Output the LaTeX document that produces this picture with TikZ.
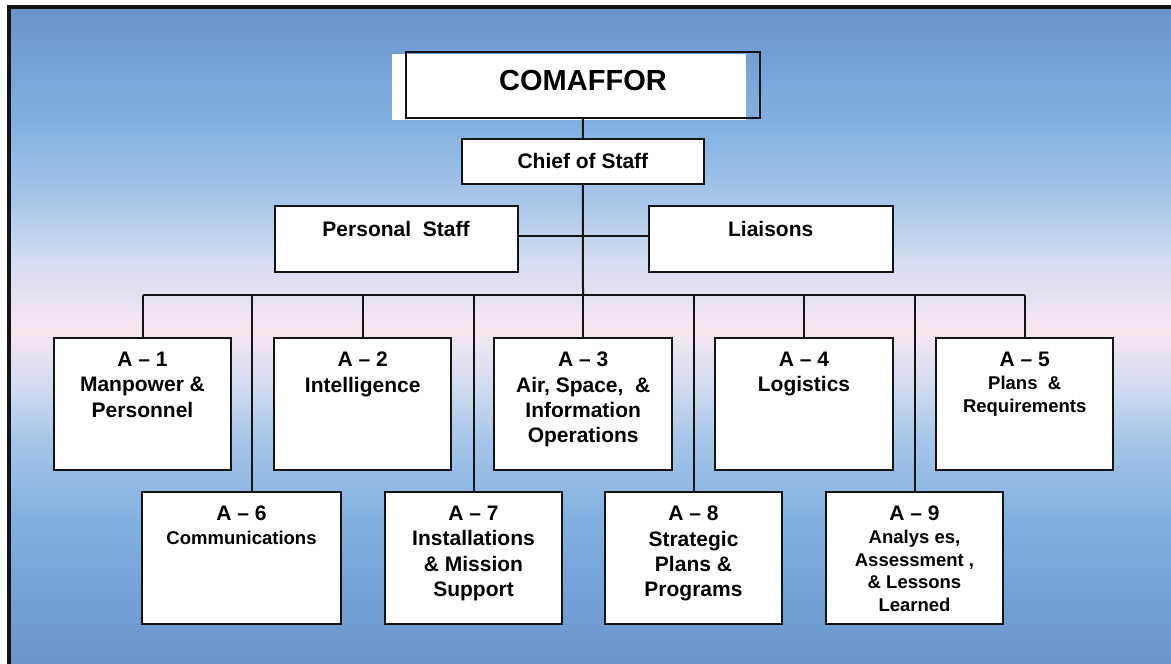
\documentclass[tikz,border=0pt]{standalone}
\usepackage{fontspec}
\setmainfont{Liberation Sans}
\usetikzlibrary{positioning}

\definecolor{ink}{HTML}{141414}
\definecolor{skyedge}{HTML}{6994CB}
\definecolor{skyhi}{HTML}{80B0E0}
\definecolor{skymid}{HTML}{A6C6E9}
\definecolor{skylav}{HTML}{D2DCF0}
\definecolor{skypink}{HTML}{F8E6F1}

\pgfdeclareverticalshading{skyband}{100bp}{color(0bp)=(skyedge); color(25bp)=(skyedge);
  color(36.2bp)=(skyhi); color(42.3bp)=(skymid); color(46.5bp)=(skylav); color(50.6bp)=(skypink);
  color(55.9bp)=(skylav); color(60.4bp)=(skymid); color(66.5bp)=(skyhi); color(75bp)=(skyedge); color(100bp)=(skyedge)}

\begin{document}
\begin{tikzpicture}[x=1pt, y=-1pt,
    unit/.style={draw=ink, line width=2pt, fill=white, inner sep=0pt, minimum width=177.5pt, minimum height=131.7pt},
    unittext/.style={anchor=north, inner sep=0pt, align=center, font=\bfseries\fontsize{21}{25.4}\selectfont},
    unitsmall/.style={unittext, font=\bfseries\fontsize{18.5}{22.5}\selectfont},
    staffbox/.style={draw=ink, line width=2pt, fill=white, inner sep=0pt, minimum width=243pt, minimum height=66pt},
    link/.style={draw=ink, line width=2pt}]
    \useasboundingbox (0,0) rectangle (1171,664);
    \clip (0,0) rectangle (1171,664);

    % Background panel
    \fill [white] (0,0) rectangle (1171,664);
    \shadedraw [shading=skyband, draw=ink, line width=4pt] (9.4,7.2) rectangle (1175,668);

    % Commander
    \node [inner sep=0pt, minimum width=354pt, minimum height=66pt] (comaffor) at (583,85) {};
    \fill [white] ([xshift=-14pt,yshift=-2pt]comaffor.north west) rectangle ([xshift=-14pt,yshift=-2pt]comaffor.south east);
    \draw [link] (comaffor.north west) rectangle (comaffor.south east);
    \node [anchor=base, font=\bfseries\fontsize{29}{34}\selectfont] at ([yshift=-5pt]comaffor.center) {COMAFFOR};

    % Chief of Staff
    \node [staffbox, minimum width=242.3pt, minimum height=44.4pt] (chief) at (582.9,161.5) {};
    \node [anchor=base, font=\bfseries\fontsize{21}{25}\selectfont] at ([yshift=-6.8pt]chief.center) {Chief of Staff};

    % Personal Staff and Liaisons
    \node [staffbox] (pstaff) at (396,238.7) {};
    \node [anchor=base, font=\bfseries\fontsize{21}{25}\selectfont] at ([yshift=2pt]pstaff.center) {Personal~ Staff};
    \node [staffbox, minimum width=243.8pt] (liaisons) at (770.7,238.7) {};
    \node [anchor=base, font=\bfseries\fontsize{21}{25}\selectfont] at ([yshift=2pt]liaisons.center) {Liaisons};

    % Directorates, top row
    \node [unit] (a1) at (142.5,404.2) {};
    \node [unittext] at ([yshift=-14.4pt]a1.north) {A – 1\\Manpower \&\\Personnel};
    \node [unit] (a2) at (362.7,404.2) {};
    \node [unittext] at ([yshift=-14.4pt]a2.north) {A – 2\\Intelligence};
    \node [unit] (a3) at (583.2,404.2) {};
    \node [unittext] at ([yshift=-14.4pt]a3.north) {A – 3\\Air, Space,~ \&\\Information\\Operations};
    \node [unit] (a4) at (804,404.2) {};
    \node [unittext] at ([yshift=-14.4pt]a4.north) {A – 4\\Logistics};
    \node [unit] (a5) at (1024.7,404.2) {};
    \node [unitsmall] at ([yshift=-14.4pt]a5.north) {{\fontsize{21}{22.5}\selectfont A – 5}\\[1pt]Plans~ \&\\Requirements};

    % Directorates, bottom row
    \node [unit, minimum width=199pt] (a6) at (241.5,558.2) {};
    \node [unitsmall] at ([yshift=-14.4pt]a6.north) {{\fontsize{21}{22.5}\selectfont A – 6}\\[1.8pt]Communications};
    \node [unit] (a7) at (473.5,558.2) {};
    \node [unittext] at ([yshift=-14.4pt]a7.north) {A – 7\\Installations\\\& Mission\\Support};
    \node [unit] (a8) at (693.5,558.2) {};
    \node [unittext] at ([yshift=-14.4pt]a8.north) {A – 8\\Strategic\\Plans \&\\Programs};
    \node [unit] (a9) at (914.5,558.2) {};
    \node [unitsmall] at ([yshift=-14.4pt]a9.north) {{\fontsize{21}{22.5}\selectfont A – 9}\\[0.8pt]Analys es,\\Assessment ,\\\& Lessons\\Learned};

    % Connectors
    \coordinate (bus) at (583,294.5);
    \coordinate (d6) at ([xshift=10.5pt]a6.north);
    \draw [link] (comaffor) -- (chief);
    \draw [link] (chief) -- (bus);
    \draw [link] ([yshift=3pt]pstaff.east) -- ([yshift=3pt]liaisons.west);
    \draw [link] (a1.north |- bus) -- (a5.north |- bus);
    \foreach \b in {a1,a2,a3,a4,a5,a7,a8,a9}
        \draw [link] (\b.north) -- (\b.north |- bus);
    \draw [link] (d6) -- (d6 |- bus);
\end{tikzpicture}
\end{document}
